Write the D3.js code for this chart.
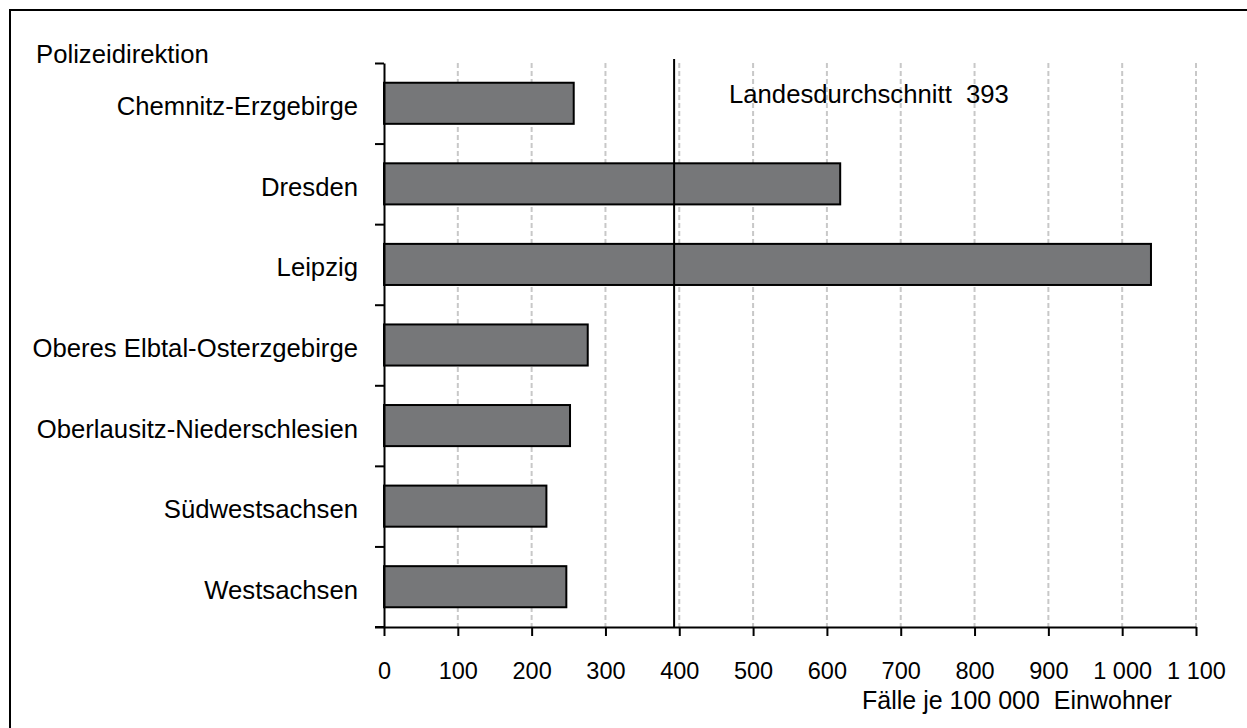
<!DOCTYPE html>
<html>
<head>
<meta charset="utf-8">
<script src="https://cdn.jsdelivr.net/npm/d3@7"></script>
<style>
  body { margin: 0; background: #fff; }
  text { font-family: "Liberation Sans", Arial, sans-serif; fill: #000; }
</style>
</head>
<body>
<script>
const regions = [
  "Chemnitz-Erzgebirge",
  "Dresden",
  "Leipzig",
  "Oberes Elbtal-Osterzgebirge",
  "Oberlausitz-Niederschlesien",
  "Südwestsachsen",
  "Westsachsen"
];
const cases = [257, 618, 1039, 276, 252, 220, 247];
const average = 393;
const xTicks = [0, 100, 200, 300, 400, 500, 600, 700, 800, 900, 1000, 1100];
const xTickLabels = ["0", "100", "200", "300", "400", "500", "600", "700", "800", "900", "1 000", "1 100"];

const width = 1247;
const height = 728;
const labelSize = 25.7;

const svg = d3.select("body").append("svg")
  .attr("width", width)
  .attr("height", height);

// frame, only top and left edge are inside the picture
svg.append("rect")
  .attr("x", 10).attr("y", 10)
  .attr("width", width).attr("height", height)
  .attr("fill", "none")
  .attr("stroke", "#000")
  .attr("stroke-width", 2);

const x = d3.scaleLinear().domain([0, 1100]).range([384, 1196]);
const y = d3.scaleBand().domain(regions).range([63, 627])
  .paddingInner(0.49).paddingOuter(0.245);

// dashed grid
svg.append("g")
  .selectAll("line")
  .data(xTicks.slice(1))
  .enter()
  .append("line")
  .attr("x1", d => x(d)).attr("x2", d => x(d))
  .attr("y1", 63).attr("y2", 627)
  .attr("stroke", "#c8c8c8")
  .attr("stroke-width", 2)
  .attr("stroke-dasharray", "5,3");

svg.append("g")
  .selectAll("rect")
  .data(regions)
  .enter()
  .append("rect")
  .attr("x", x(0))
  .attr("y", d => y(d))
  .attr("width", (d, i) => x(cases[i]) - x(0))
  .attr("height", y.bandwidth())
  .attr("fill", "#767779")
  .attr("stroke", "#000")
  .attr("stroke-width", 2);

// Landesdurchschnitt
svg.append("line")
  .attr("x1", x(average)).attr("x2", x(average))
  .attr("y1", 59).attr("y2", 627)
  .attr("stroke", "#000")
  .attr("stroke-width", 2);

svg.append("text")
  .attr("x", 729)
  .attr("y", 103)
  .attr("font-size", labelSize)
  .attr("xml:space", "preserve")
  .style("white-space", "pre")
  .text("Landesdurchschnitt  " + average);

// y axis, ticks sit between the categories
const yIdx = d3.scaleLinear().domain([0, regions.length]).range([63, 627]);
const yAxis = svg.append("g")
  .attr("transform", `translate(${x(0)},0)`)
  .call(d3.axisLeft(yIdx).ticks(regions.length).tickFormat("").tickSize(9).tickSizeOuter(0));
yAxis.select(".domain").attr("stroke-width", 2);
yAxis.selectAll(".tick line").attr("stroke-width", 2);

svg.append("g")
  .selectAll("text")
  .data(regions)
  .enter()
  .append("text")
  .attr("x", 358)
  .attr("y", d => y(d) + y.bandwidth() / 2)
  .attr("dy", 12)
  .attr("text-anchor", "end")
  .attr("font-size", labelSize)
  .text(d => d);

svg.append("text")
  .attr("x", 36)
  .attr("y", 63)
  .attr("font-size", labelSize)
  .text("Polizeidirektion");

// x axis
const xAxis = svg.append("g")
  .attr("transform", "translate(0,627)")
  .call(d3.axisBottom(x).tickValues(xTicks)
    .tickFormat((d, i) => xTickLabels[i])
    .tickSize(9).tickSizeOuter(0).tickPadding(26));
xAxis.select(".domain").attr("stroke-width", 2);
xAxis.selectAll(".tick line").attr("stroke-width", 2);
xAxis.selectAll(".tick text")
  .attr("font-size", 23.5)
  .attr("font-family", "'Liberation Sans', Arial, sans-serif")
  .attr("fill", "#000");
xAxis.append("line")
  .attr("x1", 375).attr("x2", x(0))
  .attr("y1", 0).attr("y2", 0)
  .attr("stroke", "#000")
  .attr("stroke-width", 2);

svg.append("text")
  .attr("x", 862)
  .attr("y", 709)
  .attr("font-size", 25)
  .attr("xml:space", "preserve")
  .style("white-space", "pre")
  .text("Fälle je 100 000  Einwohner");
</script>
</body>
</html>
